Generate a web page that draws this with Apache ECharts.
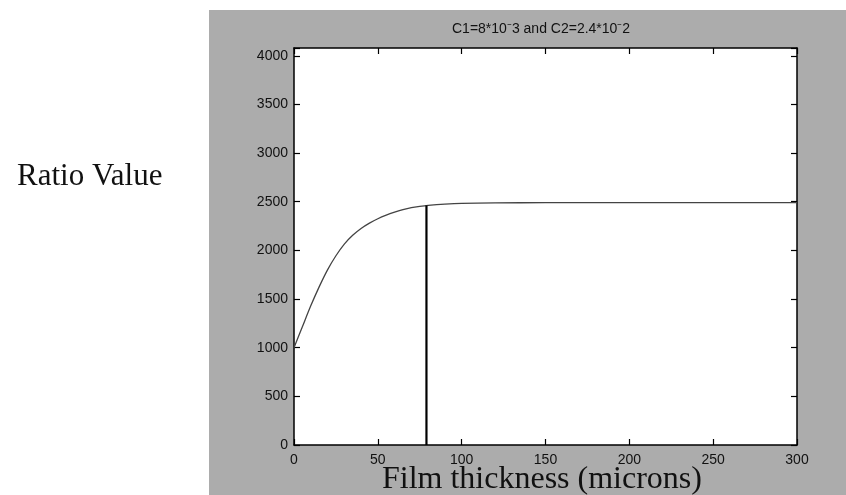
<!DOCTYPE html>
<html>
<head>
<meta charset="utf-8">
<script src="https://cdn.jsdelivr.net/npm/echarts@6/dist/echarts.min.js"></script>
<style>
html,body{margin:0;padding:0;background:#fff;}
#chart{width:846px;height:495px;}
</style>
</head>
<body>
<div id="chart"></div>
<script>
// Data
var thickness = [0, 5, 10, 15, 20, 25, 30, 35, 40, 45, 50, 55, 60, 65, 70, 75, 80, 90, 100, 120, 150, 200, 250, 300];
var ratioValues = [1000, 1215, 1430, 1625, 1800, 1945, 2065, 2155, 2225, 2280, 2325, 2362, 2393, 2420, 2440, 2453, 2463, 2476, 2484, 2489, 2490, 2490, 2490, 2490];
var markerX = [79, 79];
var markerY = [0, 2462];
var xTicks = [0, 50, 100, 150, 200, 250, 300];
var yTicks = [0, 500, 1000, 1500, 2000, 2500, 3000, 3500, 4000];
var titleText = 'C1=8*10\u207B3 and C2=2.4*10\u207B2';
var xTitle = 'Film thickness (microns)';
var yTitle = 'Ratio Value';

var curve = thickness.map(function (x, i) { return [x, ratioValues[i]]; });
var marker = markerX.map(function (x, i) { return [x, markerY[i]]; });

var chart = echarts.init(document.getElementById('chart'), null, {renderer: 'canvas'});
var tickFont = '"Liberation Sans", Arial, sans-serif';
function yFmt(v) { return yTicks.indexOf(v) >= 0 ? String(v) : ''; }
function xFmt(v) { return xTicks.indexOf(v) >= 0 ? String(v) : ''; }

var axisLineStyle = {color: '#000', width: 1.5};
var tickStyle = {show: true, inside: true, length: 6, lineStyle: {color: '#000', width: 1.2}};
chart.setOption({
  animation: false,
  backgroundColor: '#ffffff',
  graphic: [
    {type: 'rect', z: -10, silent: true, shape: {x: 209, y: 10, width: 640, height: 490}, style: {fill: '#acacac'}},
    {type: 'rect', z: -9, silent: true, shape: {x: 294, y: 48, width: 503, height: 397}, style: {fill: '#ffffff'}},
    {type: 'text', left: 17, top: 161, style: {text: yTitle, font: '31px "Liberation Serif", "Times New Roman", serif', fill: '#111'}},
    {type: 'text', left: 382, top: 464, style: {text: xTitle, font: '32px "Liberation Serif", "Times New Roman", serif', fill: '#111'}},
    {type: 'text', left: 452, top: 22, style: {text: titleText, font: '14px ' + tickFont, fill: '#111'}}
  ],
  grid: {left: 294, right: 49, top: 48, bottom: 50, show: false},
  xAxis: [
    {type: 'value', min: 0, max: 300, interval: 50, position: 'bottom',
     axisLine: {show: true, onZero: false, lineStyle: axisLineStyle},
     axisTick: tickStyle,
     axisLabel: {formatter: xFmt, color: '#111', fontSize: 14, fontFamily: tickFont, margin: 8},
     splitLine: {show: false}},
    {type: 'value', min: 0, max: 300, interval: 50, position: 'top',
     axisLine: {show: true, onZero: false, lineStyle: axisLineStyle},
     axisTick: tickStyle,
     axisLabel: {show: false}, splitLine: {show: false}}
  ],
  yAxis: [
    {type: 'value', min: 0, max: 4080, interval: 500, position: 'left',
     axisLine: {show: true, onZero: false, lineStyle: axisLineStyle},
     axisTick: tickStyle,
     axisLabel: {formatter: yFmt, color: '#111', fontSize: 14, fontFamily: tickFont, margin: 6},
     splitLine: {show: false}},
    {type: 'value', min: 0, max: 4080, interval: 500, position: 'right',
     axisLine: {show: true, onZero: false, lineStyle: axisLineStyle},
     axisTick: tickStyle,
     axisLabel: {show: false}, splitLine: {show: false}}
  ],
  series: [
    {type: 'line', data: curve, smooth: 0.3, showSymbol: false, symbol: 'none',
     lineStyle: {color: '#444', width: 1.3}, xAxisIndex: 0, yAxisIndex: 0},
    {type: 'line', data: marker, showSymbol: false, symbol: 'none',
     lineStyle: {color: '#000', width: 2.2}, xAxisIndex: 0, yAxisIndex: 0}
  ]
});
</script>
</body>
</html>
